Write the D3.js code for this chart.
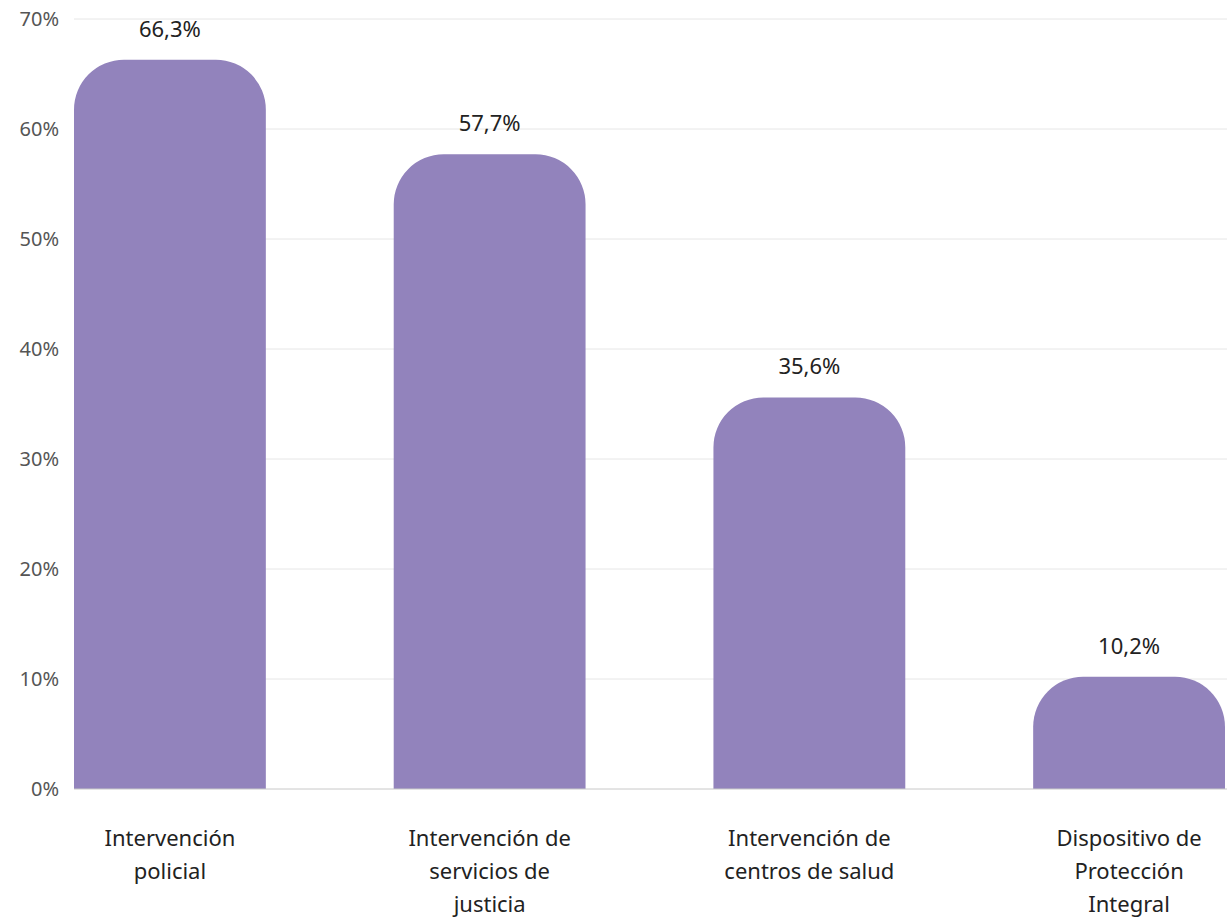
<!DOCTYPE html>
<html><head><meta charset="utf-8">
<script src="https://cdn.jsdelivr.net/npm/d3@7"></script>
<style>body{margin:0;background:#fff;} text{font-family:"Noto Sans","Open Sans",sans-serif;}</style>
</head><body><svg id="c" width="1227" height="920"></svg>
<script>
const categories = [["Intervención","policial"],["Intervención de","servicios de","justicia"],["Intervención de","centros de salud"],["Dispositivo de","Protección","Integral"]];
const values = [66.3, 57.7, 35.6, 10.2];
const valueLabels = ["66,3%","57,7%","35,6%","10,2%"];
const yTicks = [0,10,20,30,40,50,60,70];

const svg = d3.select("#c");
const x = d3.scaleBand().domain(d3.range(values.length)).range([74,1225]).paddingInner(0.4).paddingOuter(0);
const y = d3.scaleLinear().domain([0,70]).range([789,19]);

svg.append("g").selectAll("line").data(yTicks.filter(d=>d>0)).join("line")
  .attr("x1",74).attr("x2",1227).attr("y1",d=>y(d)).attr("y2",d=>y(d))
  .attr("stroke","#e6e6e6").attr("stroke-width",1);

svg.append("g").selectAll("text").data(yTicks).join("text")
  .attr("x",59).attr("y",d=>y(d)).attr("dy","0.35em").attr("text-anchor","end")
  .attr("font-size",20).attr("fill","#555").text(d=>d+"%");

const r = 50;
svg.append("g").selectAll("path").data(values).join("path")
  .attr("fill","#9283bc")
  .attr("d",(d,i)=>{
    const x0=x(i), w=x.bandwidth(), y0=y(d), y1=y(0);
    const rr=Math.min(r,(y1-y0));
    return `M${x0},${y1}V${y0+rr}A${rr},${rr} 0 0 1 ${x0+rr},${y0}H${x0+w-rr}A${rr},${rr} 0 0 1 ${x0+w},${y0+rr}V${y1}Z`;
  });

svg.append("line").attr("x1",74).attr("x2",1227).attr("y1",y(0)).attr("y2",y(0)).attr("stroke","#c8c8c8");

svg.append("g").selectAll("text").data(values).join("text")
  .attr("x",(d,i)=>x(i)+x.bandwidth()/2).attr("y",d=>y(d)-23)
  .attr("text-anchor","middle").attr("font-size",22).attr("fill","#222")
  .text((d,i)=>valueLabels[i]);

const lab = svg.append("g").selectAll("text").data(categories).join("text")
  .attr("x",(d,i)=>x(i)+x.bandwidth()/2).attr("y",846)
  .attr("text-anchor","middle").attr("font-size",22).attr("fill","#222");
lab.selectAll("tspan").data(d=>d).join("tspan")
  .attr("x",function(){return this.parentNode.getAttribute("x");})
  .attr("dy",(d,j)=>j===0?0:33).text(d=>d);
</script></body></html>
